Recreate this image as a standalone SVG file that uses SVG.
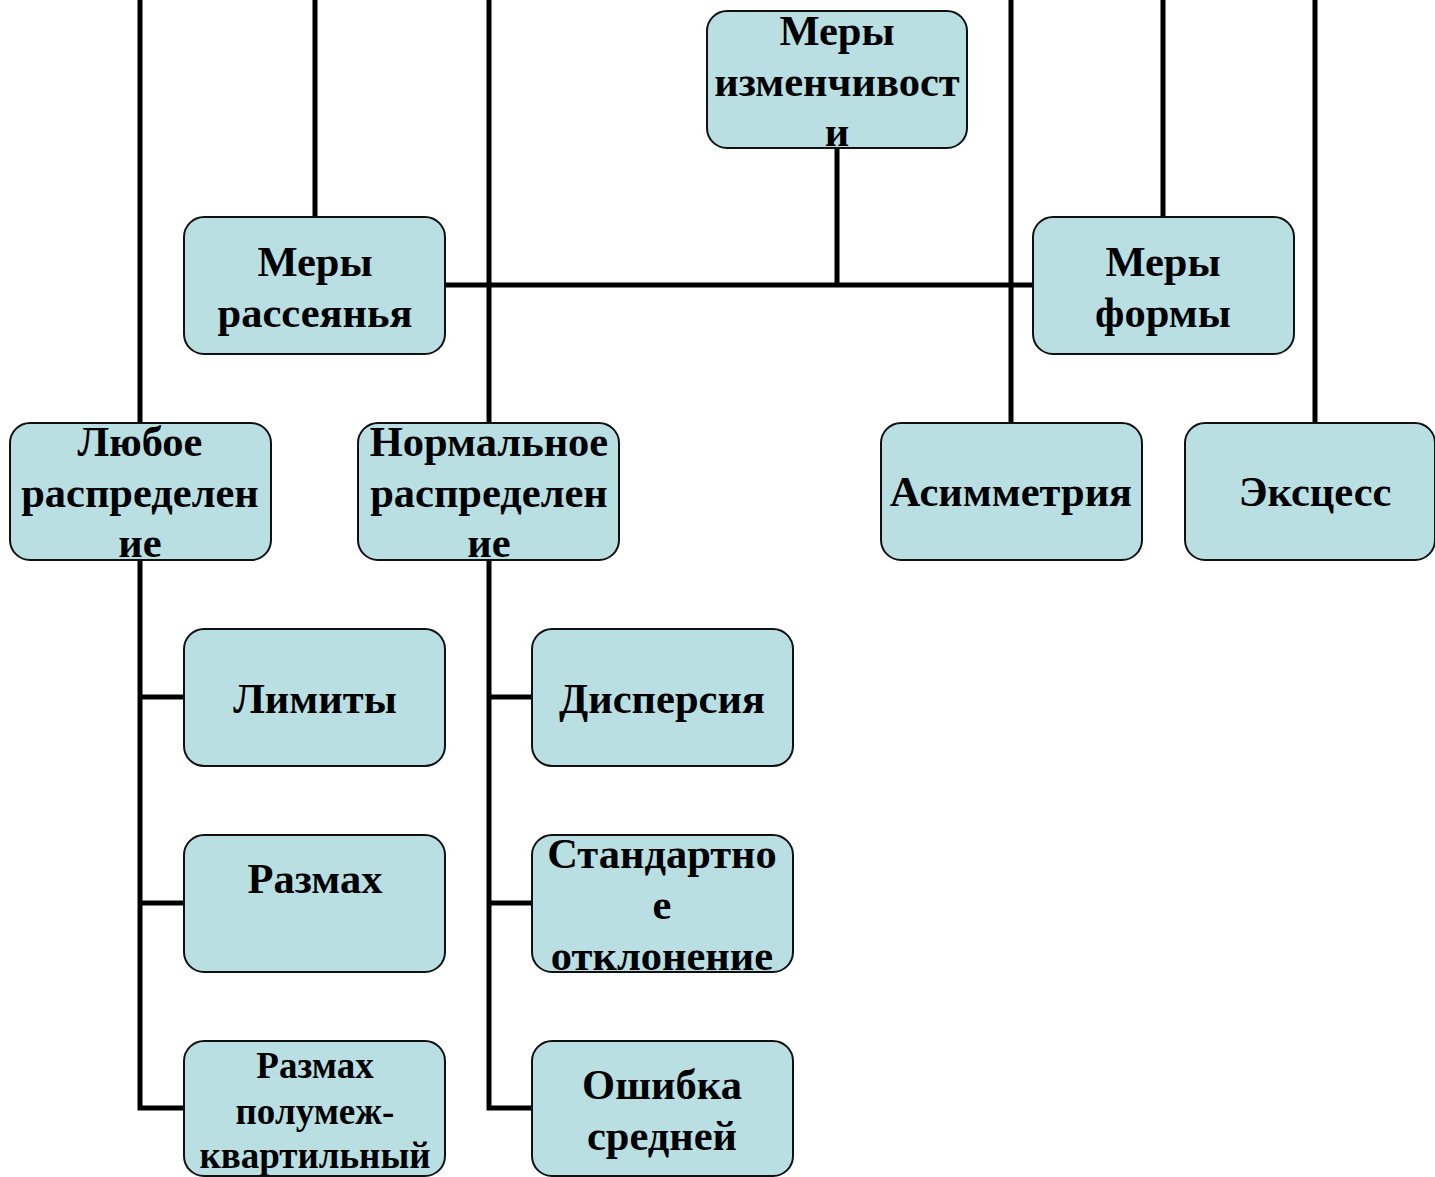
<svg xmlns="http://www.w3.org/2000/svg" width="1435" height="1177" viewBox="0 0 1435 1177">
<style>
.box{fill:#B9DFE3;stroke:#111;stroke-width:2}
.t{font-family:"Liberation Serif","Times New Roman",serif;font-weight:bold;font-size:42.5px;fill:#000;text-anchor:middle}
.s{font-size:37px}
.c{stroke:#000;stroke-width:5;fill:none}
</style>
<rect width="1435" height="1177" fill="#fff"/>
<g id="connectors">
<line class="c" x1="140" y1="0" x2="140" y2="423"/>
<line class="c" x1="315" y1="0" x2="315" y2="217"/>
<line class="c" x1="489" y1="0" x2="489" y2="423"/>
<line class="c" x1="1011" y1="0" x2="1011" y2="423"/>
<line class="c" x1="1163" y1="0" x2="1163" y2="217"/>
<line class="c" x1="1315" y1="0" x2="1315" y2="423"/>
<line class="c" x1="445" y1="285" x2="1033" y2="285"/>
<line class="c" x1="837" y1="148" x2="837" y2="285"/>
<polyline class="c" points="140,560 140,1108 184,1108"/>
<line class="c" x1="140" y1="697" x2="184" y2="697"/>
<line class="c" x1="140" y1="903" x2="184" y2="903"/>
<polyline class="c" points="489,560 489,1108 532,1108"/>
<line class="c" x1="489" y1="697" x2="532" y2="697"/>
<line class="c" x1="489" y1="903" x2="532" y2="903"/>
</g>
<g id="n-izmenchivost">
<rect class="box" x="707" y="11" width="260" height="137" rx="20"/>
<text class="t" x="837" y="45">Меры</text>
<text class="t" x="837" y="96">изменчивост</text>
<text class="t" x="837" y="146">и</text>
</g>
<g id="n-rasseyanya">
<rect class="box" x="184" y="217" width="261" height="137" rx="20"/>
<text class="t" x="315" y="276">Меры</text>
<text class="t" x="315" y="327">рассеянья</text>
</g>
<g id="n-formy">
<rect class="box" x="1033" y="217" width="261" height="137" rx="20"/>
<text class="t" x="1163" y="276">Меры</text>
<text class="t" x="1163" y="327">формы</text>
</g>
<g id="n-lyuboe">
<rect class="box" x="10" y="423" width="261" height="137" rx="20"/>
<text class="t" x="140" y="456">Любое</text>
<text class="t" x="140" y="507">распределен</text>
<text class="t" x="140" y="557">ие</text>
</g>
<g id="n-normalnoe">
<rect class="box" x="358" y="423" width="261" height="137" rx="20"/>
<text class="t" x="489" y="456">Нормальное</text>
<text class="t" x="489" y="507">распределен</text>
<text class="t" x="489" y="557">ие</text>
</g>
<g id="n-asimmetriya">
<rect class="box" x="881" y="423" width="261" height="137" rx="20"/>
<text class="t" x="1011" y="506">Асимметрия</text>
</g>
<g id="n-excess">
<rect class="box" x="1185" y="423" width="250" height="137" rx="20"/>
<text class="t" x="1315" y="506">Эксцесс</text>
</g>
<g id="n-limity">
<rect class="box" x="184" y="629" width="261" height="137" rx="20"/>
<text class="t" x="315" y="713">Лимиты</text>
</g>
<g id="n-razmah">
<rect class="box" x="184" y="835" width="261" height="137" rx="20"/>
<text class="t" x="315" y="893">Размах</text>
</g>
<g id="n-razmah-kv">
<rect class="box" x="184" y="1041" width="261" height="135" rx="20"/>
<text class="t s" x="315" y="1078">Размах</text>
<text class="t s" x="315" y="1124">полумеж-</text>
<text class="t s" x="315" y="1168">квартильный</text>
</g>
<g id="n-dispersiya">
<rect class="box" x="532" y="629" width="261" height="137" rx="20"/>
<text class="t" x="662" y="713">Дисперсия</text>
</g>
<g id="n-std">
<rect class="box" x="532" y="835" width="261" height="137" rx="20"/>
<text class="t" x="662" y="868">Стандартно</text>
<text class="t" x="662" y="919">е</text>
<text class="t" x="662" y="970">отклонение</text>
</g>
<g id="n-oshibka">
<rect class="box" x="532" y="1041" width="261" height="135" rx="20"/>
<text class="t" x="662" y="1099">Ошибка</text>
<text class="t" x="662" y="1150">средней</text>
</g>
</svg>
